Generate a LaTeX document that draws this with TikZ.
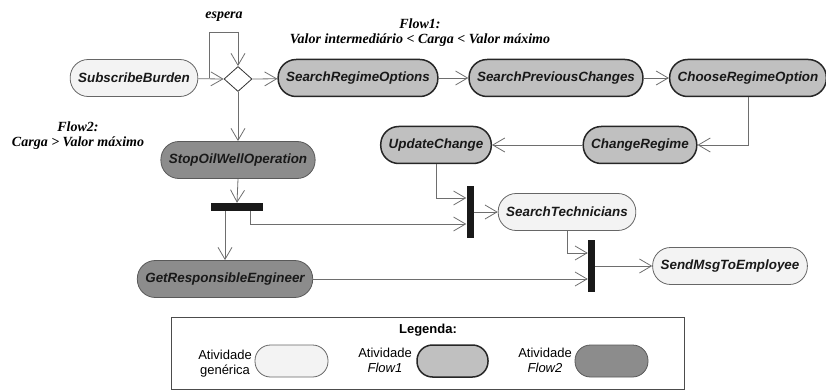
\documentclass[tikz,border=0pt]{standalone}
\usepackage{fontspec}
\setmainfont{Liberation Serif}
\setsansfont{Liberation Sans}
\usetikzlibrary{shapes.geometric,arrows.meta}
\definecolor{genfill}{HTML}{F3F3F3}
\definecolor{oneflow}{HTML}{C0C0C0}
\definecolor{twoflow}{HTML}{8C8C8C}
\definecolor{wire}{HTML}{6E6E6E}
\tikzset{
  act/.style={rectangle, rounded corners=18pt, minimum height=37pt, inner xsep=8pt, inner ysep=0pt,
    font=\fontsize{13.4}{16}\selectfont\sffamily\bfseries\itshape, text=black!90},
  genact/.style={act, fill=genfill, draw=black!60, line width=0.8pt},
  oneact/.style={act, fill=oneflow, draw=black!85, line width=1.5pt},
  twoact/.style={act, fill=twoflow, draw=black!65, line width=0.8pt},
  bar/.style={rectangle, fill=black!90, draw=none, inner sep=0pt},
  flow/.style={draw=wire, line width=0.8pt, -{Straight Barb[length=12pt,width=14pt]}},
  wireline/.style={draw=wire, line width=0.8pt},
  guard/.style={font=\fontsize{14}{15}\selectfont\rmfamily\bfseries\itshape, align=center, inner sep=0pt},
  legtext/.style={font=\fontsize{13}{15}\selectfont\sffamily, align=center, inner sep=0pt}
}
\begin{document}
\begin{tikzpicture}
\useasboundingbox (0pt,0pt) rectangle (826pt,-390pt);
\node[genact] (sb) at (134pt,-78pt) {SubscribeBurden};
\node[diamond, draw=black!80, fill=white, line width=0.8pt, minimum width=28pt, minimum height=25pt, inner sep=0pt] (dec) at (238pt,-79pt) {};
\node[oneact] (sro) at (358pt,-78pt) {SearchRegimeOptions};
\node[oneact] (spc) at (556pt,-78pt) {SearchPreviousChanges};
\node[oneact] (cro) at (748pt,-78pt) {ChooseRegimeOption};
\node[oneact] (cr) at (640pt,-145pt) {ChangeRegime};
\node[oneact] (uc) at (436pt,-145pt) {UpdateChange};
\node[twoact] (sow) at (238pt,-160pt) {StopOilWellOperation};
\node[bar, minimum width=52pt, minimum height=8pt] (fork) at (237pt,-207pt) {};
\node[twoact] (gre) at (225pt,-279pt) {GetResponsibleEngineer};
\node[bar, minimum width=7pt, minimum height=52pt] (join1) at (470pt,-212pt) {};
\node[genact] (st) at (567pt,-212pt) {SearchTechnicians};
\node[bar, minimum width=7pt, minimum height=52pt] (join2) at (591.5pt,-266pt) {};
\node[genact] (smt) at (730pt,-266pt) {SendMsgToEmployee};
\node[guard] (espera) at (224pt,-17pt) {espera};
\node[guard] (guardone) at (420pt,-33pt) {Flow1:\\Valor intermediário < Carga < Valor máximo};
\node[guard] (guardtwo) at (78pt,-136pt) {Flow2:\\Carga > Valor máximo};
\coordinate (loopfoot) at (209pt,-78pt);
\coordinate (looptop) at (238pt,-32pt);
\draw[flow] (sb) -- (dec.west);
\draw[wireline] (loopfoot) |- (looptop);
\draw[flow] (looptop) -- (dec.north);
\draw[flow] (dec.east) -- (sro);
\draw[flow] (sro) -- (spc);
\draw[flow] (spc) -- (cro);
\draw[flow] (cro.south) |- (cr.east);
\draw[flow] (cr) -- (uc);
\draw[flow] (uc.south) |- ([yshift=14pt]join1.west);
\draw[flow] (dec.south) -- (sow.north);
\draw[flow] (sow.south) -- (fork.north);
\draw[flow] ([xshift=-12pt]fork.south) -- (gre.north);
\draw[flow] ([xshift=13pt]fork.south) |- ([yshift=-12pt]join1.west);
\draw[flow] (join1.east) -- (st.west);
\draw[flow] (st.south) |- ([yshift=13pt]join2.west);
\draw[flow] (gre.east) -- (gre.east -| join2.west);
\draw[flow] (join2.east) -- (smt.west);
\draw[draw=black!70, line width=0.8pt] (171pt,-317pt) rectangle (684pt,-389pt);
\node[legtext, font=\fontsize{13}{15}\selectfont\sffamily\bfseries] (legtitle) at (428pt,-330pt) {Legenda:};
\node[legtext] (leggen) at (225pt,-364pt) {Atividade\\genérica};
\node[genact, minimum width=73pt, minimum height=32pt, rounded corners=15.5pt] (leggenbox) at (291.5pt,-361pt) {};
\node[legtext] (legone) at (385pt,-360pt) {Atividade\\\itshape Flow1};
\node[oneact, minimum width=71pt, minimum height=32pt, rounded corners=15.5pt] (legonebox) at (452.5pt,-361pt) {};
\node[legtext] (legtwo) at (545pt,-360pt) {Atividade\\\itshape Flow2};
\node[twoact, minimum width=73pt, minimum height=32pt, rounded corners=15.5pt] (legtwobox) at (611.5pt,-361pt) {};
\end{tikzpicture}
\end{document}
